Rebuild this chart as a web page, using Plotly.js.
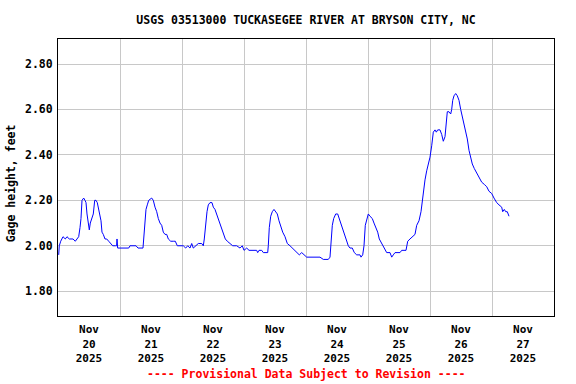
<!DOCTYPE html>
<html>
<head>
<meta charset="utf-8">
<script src="https://cdn.plot.ly/plotly-3.0.1.min.js"></script>
<style>html,body{margin:0;padding:0;background:#fff;}#chart{width:576px;height:384px;}</style>
</head>
<body>
<div id="chart"></div>
<script>
// Hours since 2025-11-20 00:00 (local station time)
var hours = [0.27,0.5,1.05,1.94,2.83,3.48,4.37,5.03,5.81,6.70,7.24,8.01,8.52,8.90,9.29,9.95,10.45,10.84,11.23,11.73,12.12,12.50,13.16,13.66,14.21,14.71,15.21,15.60,16.14,16.65,17.03,17.54,18.19,18.85,19.63,20.25,21.17,22.18,22.7,22.84,22.95,23.1,27.37,27.87,30.19,30.97,32.9,33.17,33.68,34.06,34.57,35.11,36.27,36.89,37.55,38.21,38.83,39.48,40.14,40.76,41.42,42.08,42.70,43.63,44.63,45.41,46.18,48.50,49.43,50.21,51.10,51.76,52.37,53.30,54.31,55.63,56.25,56.63,57.17,57.68,58.18,58.84,59.61,60.12,60.77,61.43,62.05,62.71,63.37,63.99,64.76,65.54,66.58,67.63,69.17,70.45,71.34,72.0,73.05,73.94,76.9,77.30,77.81,78.85,79.47,81.17,81.41,81.79,82.34,82.95,83.61,84.27,84.89,85.55,86.32,86.98,87.87,88.76,89.81,90.70,91.74,92.63,93.41,94.34,95.23,96.27,97.55,98.83,100.14,101.42,102.70,104.01,104.63,105.29,105.68,106.18,106.72,107.50,108.27,108.89,109.82,110.71,111.21,111.75,112.37,113.03,113.92,114.70,115.63,116.90,117.29,117.95,118.45,118.95,119.50,120.12,120.77,121.66,122.32,122.98,123.75,124.37,125.30,125.92,126.58,127.24,128.52,129.17,129.79,130.45,132.39,133.05,134.71,135.37,136.26,137.30,138.19,138.85,139.74,140.52,141.02,141.41,142.07,142.72,143.34,144.00,144.66,145.28,145.94,146.44,146.98,147.87,148.53,149.15,149.81,150.19,150.70,151.35,152.01,152.40,152.79,153.29,153.95,154.57,155.23,155.88,156.50,157.16,157.82,158.44,159.10,159.76,160.37,161.15,162.08,162.97,164.01,165.03,165.95,166.84,167.89,168.77,169.82,170.71,171.75,172.14,172.76,173.30,173.92,174.58];
var gageHeight = [1.96,2.00,2.02,2.04,2.03,2.04,2.03,2.03,2.03,2.02,2.03,2.04,2.08,2.12,2.20,2.21,2.20,2.19,2.14,2.09,2.07,2.10,2.12,2.14,2.20,2.20,2.19,2.17,2.14,2.11,2.06,2.05,2.03,2.03,2.02,2.01,2.00,2.00,2.00,2.03,1.99,1.99,1.99,2.00,2.00,1.99,1.99,2.04,2.11,2.16,2.18,2.20,2.21,2.20,2.17,2.15,2.12,2.10,2.09,2.06,2.05,2.05,2.03,2.02,2.02,2.02,2.00,2.00,1.99,2.00,1.99,2.01,1.99,2.00,2.01,2.01,2.00,2.03,2.11,2.15,2.18,2.19,2.19,2.17,2.16,2.14,2.12,2.10,2.08,2.06,2.03,2.02,2.01,2.00,2.00,1.99,2.00,1.98,1.99,1.98,1.98,1.97,1.98,1.98,1.97,1.97,2.00,2.08,2.13,2.15,2.16,2.15,2.14,2.11,2.08,2.06,2.04,2.01,2.00,1.99,1.98,1.97,1.96,1.97,1.96,1.95,1.95,1.95,1.95,1.95,1.94,1.94,1.94,1.95,2.02,2.09,2.12,2.14,2.14,2.12,2.09,2.06,2.04,2.02,2.00,1.99,1.99,1.97,1.96,1.96,1.95,1.96,2.00,2.09,2.12,2.14,2.13,2.12,2.10,2.08,2.06,2.03,2.01,2.00,1.98,1.97,1.97,1.95,1.96,1.97,1.97,1.98,1.98,2.02,2.03,2.04,2.05,2.09,2.11,2.15,2.20,2.25,2.29,2.33,2.36,2.39,2.44,2.50,2.51,2.50,2.51,2.51,2.49,2.46,2.48,2.52,2.59,2.59,2.58,2.60,2.64,2.66,2.67,2.66,2.64,2.60,2.57,2.54,2.50,2.47,2.42,2.39,2.36,2.34,2.32,2.30,2.28,2.27,2.26,2.24,2.23,2.21,2.19,2.18,2.17,2.15,2.16,2.15,2.15,2.13];
var yTickVals = [1.80,2.00,2.20,2.40,2.60,2.80];
var titleText = "USGS 03513000 TUCKASEGEE RIVER AT BRYSON CITY, NC";
var yTitleText = "Gage height, feet";
var footerText = "---- Provisional Data Subject to Revision ----";
var startMs = Date.UTC(2025,10,20,0,0,0);

function fmt(ms){ return new Date(ms).toISOString().replace('T',' ').slice(0,19); }
var xs = hours.map(function(h){ return fmt(startMs + h*3600000); });

var mono = "DejaVu Sans Mono, Liberation Mono, monospace";
var trace = {
  x: xs, y: gageHeight, type: 'scatter', mode: 'lines',
  line: {color: '#0000ff', width: 1}, hoverinfo: 'skip'
};
var layout = {
  width: 576, height: 384,
  margin: {l: 58, r: 22, t: 39, b: 68, pad: 0},
  paper_bgcolor: '#ffffff', plot_bgcolor: '#ffffff',
  showlegend: false,
  title: {text: titleText, font: {family: mono, size: 11.5, weight: 'bold', color: '#000'},
          xref: 'paper', x: 0.5, xanchor: 'center', yref: 'container', y: 1 - 20/384, yanchor: 'middle'},
  xaxis: {
    type: 'date', range: [fmt(startMs), fmt(startMs + 8*86400000)],
    tick0: fmt(startMs), dtick: 86400000, ticklabelmode: 'period',
    tickformat: '%b<br>%d<br>%Y', ticks: '', showgrid: true, gridcolor: '#c8c8c8', gridwidth: 1,
    showline: true, linecolor: '#000', linewidth: 1, mirror: true, zeroline: false,
    ticklabelstandoff: 3,
    tickfont: {family: mono, size: 11, weight: 'bold', color: '#000'}, automargin: false
  },
  yaxis: {
    range: [1.691, 2.910], tickvals: yTickVals, tickformat: '.2f', ticks: '',
    showgrid: true, gridcolor: '#c8c8c8', gridwidth: 1, zeroline: false,
    showline: true, linecolor: '#000', linewidth: 1, mirror: true, ticklabelstandoff: 2,
    tickfont: {family: mono, size: 11.5, weight: 'bold', color: '#000'}, automargin: false
  },
  annotations: [
    {text: yTitleText, xref: 'paper', yref: 'paper', x: (11-58)/496, y: (316-183.3)/277,
     xanchor: 'center', yanchor: 'middle', textangle: -90, showarrow: false,
     font: {family: mono, size: 11.5, weight: 'bold', color: '#000'}},
    {text: footerText, xref: 'paper', yref: 'paper', x: 0.5, y: (316-374.3)/277,
     xanchor: 'center', yanchor: 'middle', showarrow: false,
     font: {family: mono, size: 11.5, weight: 'bold', color: '#ff0000'}}
  ]
};
Plotly.newPlot('chart', [trace], layout, {staticPlot: true, displayModeBar: false});
</script>
</body>
</html>
